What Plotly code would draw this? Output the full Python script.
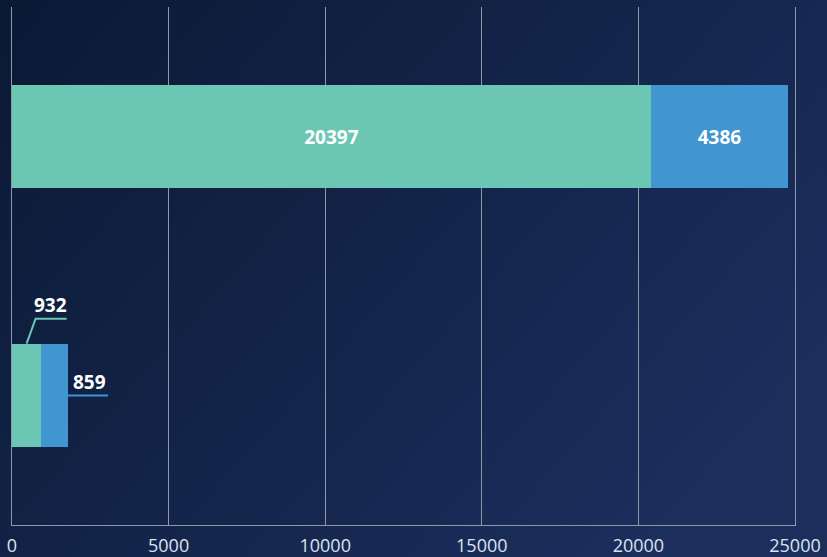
"""Stacked horizontal bars on a navy gradient."""

import base64

import plotly.graph_objects as go

CATEGORIES = ["B", "A"]
SERIES_1 = [932, 20397]
SERIES_2 = [859, 4386]
X_TICKS = [0, 5000, 10000, 15000, 20000, 25000]

GREEN = "#6bc6b3"
BLUE = "#4195d1"
GRID = "#9097a6"
W, H = 827, 557
M = dict(l=12, r=32, t=7, b=32)
LABEL_FONT = dict(color="white", size=19, family="Open Sans")

svg = (
    f'<svg xmlns="http://www.w3.org/2000/svg" width="{W}" height="{H}" viewBox="0 0 {W} {H}" '
    'preserveAspectRatio="none">'
    '<defs><linearGradient id="g" x1="0" y1="0" x2="1" y2="0.6">'
    '<stop offset="0" stop-color="#0a1934"/><stop offset="1" stop-color="#1b2e5c"/>'
    f'</linearGradient></defs><rect x="0" y="0" width="{W}" height="{H}" fill="url(#g)"/></svg>'
)
bg_src = "data:image/svg+xml;base64," + base64.b64encode(svg.encode()).decode()

pw, ph = W - M["l"] - M["r"], H - M["t"] - M["b"]

fig = go.Figure()
fig.add_trace(go.Bar(
    y=CATEGORIES, x=SERIES_1, orientation="h", width=0.4, marker=dict(color=GREEN, line_width=0),
    text=["" if v < 5000 else str(v) for v in SERIES_1], textposition="inside",
    insidetextanchor="middle", textfont=LABEL_FONT,
    texttemplate="<b>%{text}</b>", name="s1"))
fig.add_trace(go.Bar(
    y=CATEGORIES, x=SERIES_2, orientation="h", width=0.4, marker=dict(color=BLUE, line_width=0),
    text=["" if v < 2000 else str(v) for v in SERIES_2], textposition="inside",
    insidetextanchor="middle", textfont=LABEL_FONT,
    texttemplate="<b>%{text}</b>", name="s2"))

# leader-line labels for the small bar
small = 0
g_mid = SERIES_1[small] / 2
b_end = SERIES_1[small] + SERIES_2[small]
fig.add_shape(type="path", xref="x", yref="y", xsizemode="pixel", ysizemode="pixel",
              xanchor=g_mid, yanchor=small + 0.2, path="M 0 0 L 9 25 L 40 25",
              line=dict(color=GREEN, width=2))
fig.add_annotation(x=g_mid, y=small + 0.2, xref="x", yref="y", xshift=24, yshift=39,
                   text=f"<b>{SERIES_1[small]}</b>", showarrow=False, font=LABEL_FONT)
fig.add_shape(type="path", xref="x", yref="y", xsizemode="pixel", ysizemode="pixel",
              xanchor=b_end, yanchor=small, path="M 0 0 L 40 0",
              line=dict(color=BLUE, width=2))
fig.add_annotation(x=b_end, y=small, xref="x", yref="y", xshift=21, yshift=14,
                   text=f"<b>{SERIES_2[small]}</b>", showarrow=False, font=LABEL_FONT)

fig.add_layout_image(dict(source=bg_src, xref="paper", yref="paper",
                          x=-M["l"] / pw, y=1 + M["t"] / ph, sizex=W / pw, sizey=H / ph,
                          xanchor="left", yanchor="top", sizing="stretch", layer="below"))

fig.update_xaxes(range=[0, 25000], tickvals=X_TICKS, ticktext=[str(t) for t in X_TICKS],
                 showgrid=True, gridcolor=GRID, gridwidth=1, zeroline=False,
                 showline=True, linecolor=GRID, automargin=False, ticklabelstandoff=4,
                 tickfont=dict(color="#dde3ee", size=18, family="Open Sans"), ticks="")
fig.update_yaxes(type="category", showticklabels=False, showgrid=False, zeroline=False,
                 showline=True, linecolor=GRID, mirror=True, ticks="", automargin=False)
fig.update_layout(width=W, height=H, margin=M, barmode="stack", showlegend=False,
                  paper_bgcolor="#0f1f42", plot_bgcolor="rgba(0,0,0,0)")

fig.write_html("out.html", config={"displayModeBar": False},
               post_script="document.body.style.margin='0';document.body.style.overflow='hidden';")
